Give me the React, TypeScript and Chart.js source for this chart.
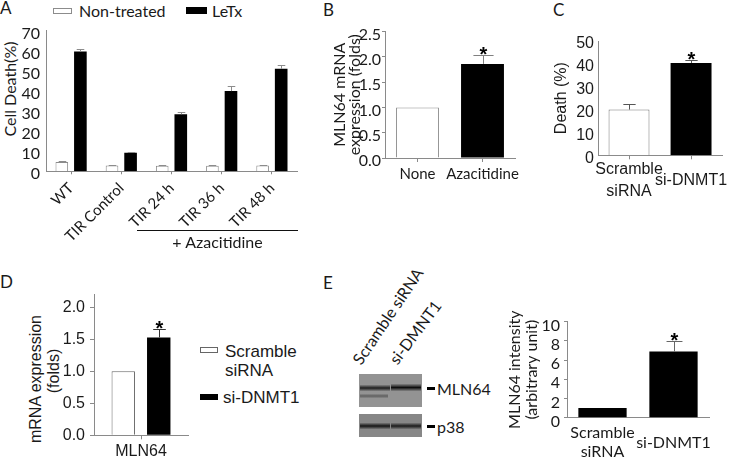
import React, { useEffect, useRef } from "react";
import { Chart, registerables } from "chart.js";

Chart.register(...registerables);

// ---------------- Data ----------------
// Panel A
const aCategories = ["WT", "TIR Control", "TIR 24 h", "TIR 36 h", "TIR 48 h"];
const aNonTreated = [4.6, 2.9, 2.8, 2.8, 2.9];
const aNonTreatedErr = [0.4, 0.3, 0.3, 0.3, 0.3];
const aLeTx = [59.6, 9.2, 28.4, 39.9, 51.0];
const aLeTxErr = [1.4, 0.5, 1.2, 2.3, 1.7];
const aTicks = [0, 10, 20, 30, 40, 50, 60, 70];
const aLegend = ["Non-treated", "LeTx"];
const aYTitle = "Cell Death(%)";
const aGroupLabel = "+ Azacitidine";

// Panel B
const bCategories = ["None", "Azacitidine"];
const bValues = [1.0, 1.86];
const bErrors = [0, 0.18];
const bStars = [false, true];
const bTicks = [0, 0.5, 1, 1.5, 2, 2.5];

// Panel C
const cCategories = [["Scramble", "siRNA"], "si-DNMT1"];
const cValues = [20.0, 40.4];
const cErrors = [2.6, 1.2];
const cStars = [false, true];
const cTicks = [0, 10, 20, 30, 40, 50];

// Panel D
const dCategories = ["MLN64"];
const dScramble = [1.0];
const dScrambleErr = [0];
const dSiDNMT1 = [1.53];
const dSiDNMT1Err = [0.13];
const dStars = [true];
const dTicks = [0, 0.5, 1, 1.5, 2];
const dLegend = [["Scramble", "siRNA"], ["si-DNMT1"]];
const dYTitle = ["mRNA expression", "(folds)"];

// Panel E
const eCategories = [["Scramble", "siRNA"], "si-DNMT1"];
const eValues = [1.0, 6.9];
const eErrors = [0, 1.1];
const eStars = [false, true];
const eTicks = [0, 2, 4, 6, 8, 10];
const eBlotLanes = ["Scramble siRNA", "si-DMNT1"];
const eBlotBands = ["MLN64", "p38"];

// ---------------- Styling ----------------
const AXIS = "#8a8a8a";
const TXT = "#1a1a1a";
const LATO = "Lato, 'Open Sans', sans-serif";
const ARIAL = "'Liberation Sans', Arial, sans-serif";

// Error bar + significance star plugin (uses the chart's own scales)
const errorBarPlugin = {
  id: "errorBars",
  afterDatasetsDraw(chart: any, _args: any, opts: any) {
    const ctx = chart.ctx;
    const yScale = chart.scales.y;
    chart.data.datasets.forEach((ds: any, i: number) => {
      if (!ds.errors) return;
      const meta = chart.getDatasetMeta(i);
      meta.data.forEach((el: any, j: number) => {
        const v = ds.data[j] as number;
        const e = ds.errors[j] || 0;
        const x = Math.round(el.x) + 0.5;
        const yTop = Math.round(yScale.getPixelForValue(v + e)) + 0.5;
        ctx.save();
        if (e > 0) {
          const half = (el.width * (opts.cap ?? 0.5)) / 2;
          ctx.strokeStyle = opts.color || "#666";
          ctx.lineWidth = 1;
          ctx.beginPath();
          ctx.moveTo(x, el.y);
          ctx.lineTo(x, yTop);
          ctx.moveTo(x - half, yTop);
          ctx.lineTo(x + half, yTop);
          ctx.stroke();
        }
        if (ds.stars && ds.stars[j]) {
          ctx.fillStyle = "#000";
          ctx.font = opts.starFont || "bold 20px 'Liberation Sans', Arial";
          ctx.textAlign = "center";
          ctx.textBaseline = "alphabetic";
          ctx.fillText("*", x, yTop + (opts.starDy ?? 5.5));
        }
        ctx.restore();
      });
    });
  },
};

function yScale(o: any) {
  const ticks = o.ticks as number[];
  return {
    type: "linear",
    min: o.min,
    max: o.max,
    afterBuildTicks: (s: any) => {
      s.ticks = ticks.map((v) => ({ value: v }));
    },
    afterFit: (s: any) => {
      s.width = o.width;
    },
    ticks: {
      font: o.font,
      color: TXT,
      padding: o.pad,
      autoSkip: false,
      labelOffset: o.labelOffset || 0,
      callback: (v: any) => Number(v).toFixed(o.digits),
    },
    grid: {
      display: o.tickLen > 0,
      drawOnChartArea: false,
      drawTicks: o.tickLen > 0,
      tickLength: o.tickLen,
      color: AXIS,
    },
    border: { display: true, color: AXIS, width: 1 },
    title: o.title
      ? {
          display: true,
          text: o.title.text,
          font: o.title.font,
          color: TXT,
          padding: { top: o.title.pad, bottom: 0 },
        }
      : { display: false },
  };
}

function xScale(o: any) {
  return {
    type: "category",
    afterFit: (s: any) => {
      s.height = o.height;
    },
    ticks: {
      font: o.font,
      color: TXT,
      padding: o.pad,
      autoSkip: false,
      maxRotation: o.rotation || 0,
      minRotation: o.rotation || 0,
      crossAlign: o.crossAlign || "near",
    },
    grid: {
      display: true,
      offset: false,
      drawOnChartArea: false,
      drawTicks: o.tickLen > 0,
      tickLength: o.tickLen,
      color: o.tickLen > 0 ? AXIS : "rgba(0,0,0,0)",
    },
    border: { display: true, color: AXIS, width: 1 },
  };
}

function baseOptions(top: number, right: number, eb: any, scales: any) {
  return {
    responsive: false,
    maintainAspectRatio: false,
    animation: false,
    devicePixelRatio: 1,
    layout: { padding: { top, right, left: 0, bottom: 0 } },
    plugins: {
      legend: { display: false },
      tooltip: { enabled: false },
      errorBars: eb,
    },
    scales,
  };
}

// ---------------- Chart builders ----------------
function buildA() {
  const H = 245;
  const l = 46, t = 13.5, r = 297, b = 156.3, W = 310;
  return {
    type: "bar",
    data: {
      labels: aCategories,
      datasets: [
        {
          label: aLegend[0],
          data: aNonTreated,
          errors: aNonTreatedErr,
          backgroundColor: "#ffffff",
          borderColor: "#8c8c8c",
          borderWidth: 1,
          categoryPercentage: 0.74,
          barPercentage: 0.68,
        },
        {
          label: aLegend[1],
          data: aLeTx,
          errors: aLeTxErr,
          backgroundColor: "#000000",
          borderWidth: 0,
          categoryPercentage: 0.74,
          barPercentage: 0.68,
        },
      ],
    },
    options: baseOptions(t, W - r, { color: "#8c8c8c", cap: 0.6 }, {
      x: xScale({ height: H - b, font: { family: LATO, size: 15 }, tickLen: 3, pad: 5, rotation: 45 }),
      y: yScale({
        min: 0, max: 70, ticks: aTicks, digits: 0,
        font: { family: LATO, size: 16 }, width: l, tickLen: 0, pad: 6, labelOffset: 3,
      }),
    }),
    plugins: [errorBarPlugin],
  };
}

function buildB() {
  const W = 205, H = 180;
  const l = 65, t = 16.5, r = 195, b = 143;
  return {
    type: "bar",
    data: {
      labels: bCategories,
      datasets: [
        {
          label: "MLN64",
          data: bValues,
          errors: bErrors,
          stars: bStars,
          backgroundColor: ["#ffffff", "#000000"],
          borderColor: ["#8c8c8c", "#000000"],
          borderWidth: [1, 0],
          categoryPercentage: 1,
          barPercentage: 0.66,
        },
      ],
    },
    options: baseOptions(t, W - r, { color: "#808080", cap: 0.47, starDy: 5.5 }, {
      x: xScale({ height: H - b, font: { family: LATO, size: 15 }, tickLen: 4, pad: 3 }),
      y: yScale({
        min: 0, max: 2.5, ticks: bTicks, digits: 1,
        font: { family: LATO, size: 16 }, width: l, tickLen: 3, pad: 1, labelOffset: 3,
        title: { text: ["MLN64 mRNA", "expression (folds)"], font: { family: LATO, size: 16, lineHeight: 0.95 }, pad: 12 },
      }),
    }),
    plugins: [errorBarPlugin],
  };
}

function buildC() {
  const W = 197, H = 200;
  const l = 53, t = 26, r = 180, b = 140.3;
  return {
    type: "bar",
    data: {
      labels: cCategories,
      datasets: [
        {
          label: "Death",
          data: cValues,
          errors: cErrors,
          stars: cStars,
          backgroundColor: ["#ffffff", "#000000"],
          borderColor: ["#777777", "#000000"],
          borderWidth: [1, 0],
          categoryPercentage: 1,
          barPercentage: 0.66,
        },
      ],
    },
    options: baseOptions(t, W - r, { color: "#555555", cap: 0.3, starDy: 5.5 }, {
      x: xScale({ height: H - b, font: { family: ARIAL, size: 16, lineHeight: 1.35 }, tickLen: 4, pad: 10.7, crossAlign: "center" }),
      y: yScale({
        min: 0, max: 50, ticks: cTicks, digits: 0,
        font: { family: ARIAL, size: 16 }, width: l, tickLen: 0, pad: 4, labelOffset: 3,
        title: { text: "Death (%)", font: { family: ARIAL, size: 16, lineHeight: 1.15 }, pad: 7.5 },
      }),
    }),
    plugins: [errorBarPlugin],
  };
}

function buildD() {
  const W = 200, H = 177;
  const l = 94, t = 14, r = 188, b = 155.3;
  return {
    type: "bar",
    data: {
      labels: dCategories,
      datasets: [
        {
          label: dLegend[0].join(" "),
          data: dScramble,
          errors: dScrambleErr,
          backgroundColor: "#ffffff",
          borderColor: "#666666",
          borderWidth: 1,
          categoryPercentage: 0.755,
          barPercentage: 0.66,
        },
        {
          label: dLegend[1].join(" "),
          data: dSiDNMT1,
          errors: dSiDNMT1Err,
          stars: dStars,
          backgroundColor: "#000000",
          borderWidth: 0,
          categoryPercentage: 0.755,
          barPercentage: 0.66,
        },
      ],
    },
    options: baseOptions(t, W - r, { color: "#333333", cap: 0.54, starDy: 5.5 }, {
      x: xScale({ height: H - b, font: { family: ARIAL, size: 16 }, tickLen: 4, pad: 2.5 }),
      y: yScale({
        min: 0, max: 2.2, ticks: dTicks, digits: 1,
        font: { family: ARIAL, size: 16 }, width: l, tickLen: 4, pad: 5, labelOffset: 0,
      }),
    }),
    plugins: [errorBarPlugin],
  };
}

function buildE() {
  const W = 242, H = 167;
  const l = 67, t = 31.7, r = 209, b = 127.7;
  return {
    type: "bar",
    data: {
      labels: eCategories,
      datasets: [
        {
          label: "MLN64 intensity",
          data: eValues,
          errors: eErrors,
          stars: eStars,
          backgroundColor: "#000000",
          borderWidth: 0,
          categoryPercentage: 1,
          barPercentage: 0.68,
        },
      ],
    },
    options: baseOptions(t, W - r, { color: "#666666", cap: 0.33, starDy: 5.5 }, {
      x: xScale({ height: H - b, font: { family: LATO, size: 16, lineHeight: 1.15 }, tickLen: 0, pad: 15.6, crossAlign: "center" }),
      y: yScale({
        min: 0, max: 10, ticks: eTicks, digits: 0,
        font: { family: LATO, size: 16 }, width: l, tickLen: 3, pad: 4, labelOffset: 4,
        title: { text: ["MLN64 intensity", "(arbitrary unit)"], font: { family: LATO, size: 16, lineHeight: 1.05 }, pad: 6.6 },
      }),
    }),
    plugins: [errorBarPlugin],
  };
}

// ---------------- Components ----------------
function ChartCanvas(props: { left: number; top: number; width: number; height: number; build: () => any }) {
  const ref = useRef<HTMLCanvasElement>(null);
  useEffect(() => {
    const chart = new Chart(ref.current as HTMLCanvasElement, props.build());
    return () => chart.destroy();
  }, []);
  return (
    <canvas
      ref={ref}
      width={props.width}
      height={props.height}
      style={{ position: "absolute", left: props.left, top: props.top, width: props.width, height: props.height }}
    />
  );
}

function Blot() {
  const ref = useRef<HTMLCanvasElement>(null);
  useEffect(() => {
    const c = ref.current as HTMLCanvasElement;
    const ctx = c.getContext("2d") as CanvasRenderingContext2D;
    ctx.clearRect(0, 0, c.width, c.height);
    const band = (x0: number, x1: number, yc: number, h: number, a: number) => {
      const g = ctx.createLinearGradient(0, yc - h / 2, 0, yc + h / 2);
      g.addColorStop(0, "rgba(0,0,0,0)");
      g.addColorStop(0.5, `rgba(0,0,0,${a})`);
      g.addColorStop(1, "rgba(0,0,0,0)");
      ctx.fillStyle = g;
      ctx.fillRect(x0, yc - h / 2, x1 - x0, h);
    };
    // upper blot (MLN64)
    ctx.fillStyle = "#939393";
    ctx.fillRect(3, 2, 63, 33);
    band(4, 34, 16, 7, 0.8);
    band(35, 65, 15.5, 8, 0.9);
    band(4, 32, 24, 5, 0.35);
    // lower blot (p38)
    ctx.fillStyle = "#878787";
    ctx.fillRect(3, 42, 63, 23);
    band(4, 34, 54, 7, 0.85);
    band(35, 65, 54, 7, 0.8);
  }, []);
  return <canvas ref={ref} width={70} height={72} style={{ position: "absolute", left: 356, top: 372 }} />;
}

function Txt(props: { x: number; y: number; s: number; f: string; children: any; style?: any }) {
  return (
    <div
      style={{
        position: "absolute",
        left: props.x,
        top: props.y,
        fontSize: props.s,
        fontFamily: props.f,
        lineHeight: 1,
        whiteSpace: "nowrap",
        color: TXT,
        ...(props.style || {}),
      }}
    >
      {props.children}
    </div>
  );
}

// vertical (rotated -90deg) text centered at (cx, cy)
function VTxt(props: { cx: number; cy: number; s: number; f: string; children: any }) {
  return (
    <div
      style={{
        position: "absolute",
        left: props.cx - 100,
        top: props.cy - props.s / 2,
        width: 200,
        height: props.s,
        textAlign: "center",
        fontSize: props.s,
        fontFamily: props.f,
        lineHeight: 1,
        whiteSpace: "nowrap",
        color: TXT,
        transform: "rotate(-90deg)",
        transformOrigin: "50% 50%",
      }}
    >
      {props.children}
    </div>
  );
}

export default function App() {
  return (
    <div
      style={{
        position: "fixed",
        left: 0,
        top: 0,
        width: 742,
        height: 457,
        background: "#ffffff",
        overflow: "hidden",
      }}
    >
      {/* Panel letters */}
      <Txt x={0} y={-1} s={17} f={LATO}>A</Txt>
      <Txt x={323} y={0.5} s={17} f={LATO}>B</Txt>
      <Txt x={553} y={0.5} s={17} f={LATO}>C</Txt>
      <Txt x={0} y={273} s={17} f={LATO}>D</Txt>
      <Txt x={323} y={274} s={17} f={LATO}>E</Txt>

      {/* Panel A legend */}
      <div style={{ position: "absolute", left: 53, top: 8, width: 19, height: 6, border: "1px solid #8c8c8c", boxSizing: "border-box", background: "#fff" }} />
      <Txt x={79} y={3} s={16} f={LATO}>{aLegend[0]}</Txt>
      <div style={{ position: "absolute", left: 186, top: 7, width: 21, height: 7, background: "#000" }} />
      <Txt x={212} y={3} s={16} f={LATO}>{aLegend[1]}</Txt>

      <VTxt cx={10} cy={89} s={16} f={LATO}>{aYTitle}</VTxt>
      <ChartCanvas left={0} top={15} width={310} height={245} build={buildA} />
      <div style={{ position: "absolute", left: 137, top: 230, width: 161, height: 1, background: "#111" }} />
      <Txt x={137} y={234} s={16} f={LATO} style={{ width: 161, textAlign: "center" }}>{aGroupLabel}</Txt>

      <ChartCanvas left={320} top={15} width={205} height={180} build={buildB} />
      <ChartCanvas left={545} top={15} width={197} height={200} build={buildC} />

      <VTxt cx={36} cy={379} s={16} f={ARIAL}>{dYTitle[0]}</VTxt>
      <VTxt cx={54} cy={371} s={16} f={ARIAL}>{dYTitle[1]}</VTxt>
      <ChartCanvas left={0} top={280} width={200} height={177} build={buildD} />

      {/* Panel D legend */}
      <div style={{ position: "absolute", left: 200, top: 347, width: 18, height: 6, border: "1px solid #666", boxSizing: "border-box", background: "#fff" }} />
      <Txt x={225} y={343.4} s={17} f={ARIAL}>{dLegend[0][0]}</Txt>
      <Txt x={225} y={361.7} s={17} f={ARIAL}>{dLegend[0][1]}</Txt>
      <div style={{ position: "absolute", left: 200, top: 394, width: 18, height: 6, background: "#000" }} />
      <Txt x={223} y={389} s={17} f={ARIAL}>{dLegend[1][0]}</Txt>

      {/* Panel E blot */}
      <Blot />
      <Txt x={363} y={351} s={16} f={LATO} style={{ transformOrigin: "0 100%", transform: "rotate(-56deg)" }}>{eBlotLanes[0]}</Txt>
      <Txt x={399} y={351} s={16} f={LATO} style={{ transformOrigin: "0 100%", transform: "rotate(-53deg)" }}>{eBlotLanes[1]}</Txt>
      <div style={{ position: "absolute", left: 427, top: 387, width: 8, height: 3, background: "#000" }} />
      <Txt x={437} y={381} s={16} f={LATO}>{eBlotBands[0]}</Txt>
      <div style={{ position: "absolute", left: 427, top: 425, width: 8, height: 3, background: "#000" }} />
      <Txt x={437} y={419} s={16} f={LATO}>{eBlotBands[1]}</Txt>

      <ChartCanvas left={500} top={290} width={242} height={167} build={buildE} />
    </div>
  );
}
